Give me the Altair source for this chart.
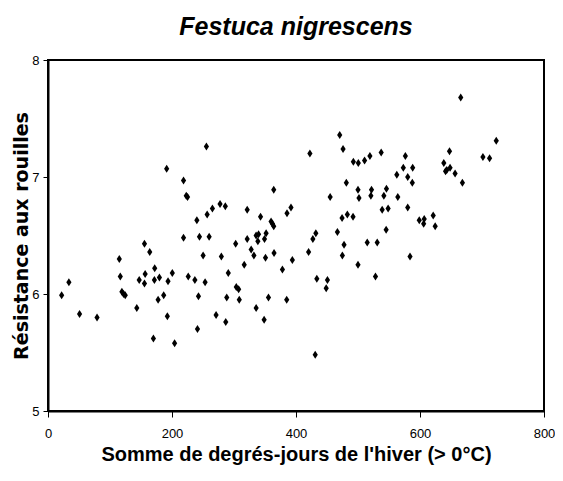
import altair as alt
import pandas as pd

# Somme de degrés-jours de l'hiver (> 0°C)
x_vals = [22.0, 33.7, 50.9, 79.1, 115.0, 116.6, 119.2, 121.9, 124.6, 143.2,
          147.1, 155.6, 155.6, 156.7, 164.1, 170.0, 172.1, 171.6, 177.6, 179.7,
          186.6, 192.5, 193.6, 200.5, 204.2, 218.6, 226.2, 236.9, 240.1, 241.1,
          242.7, 244.3, 250.2, 253.4, 259.9, 271.1, 255.5, 191.4, 218.6, 225.1,
          223.0, 265.2, 256.7, 277.5, 286.0, 321.3, 342.8, 359.8, 362.0, 364.1,
          364.1, 385.5, 391.9, 422.4, 455.1, 470.5, 475.9, 481.2, 492.5, 500.5,
          510.6, 519.2, 500.0, 501.6, 521.8, 520.8, 474.3, 482.8, 492.0, 432.0,
          466.8, 279.6, 302.7, 321.3, 327.7, 332.1, 335.7, 339.6, 338.5, 349.2,
          351.8, 350.8, 364.6, 316.5, 290.8, 288.3, 303.7, 307.5, 308.5, 286.7,
          335.7, 348.6, 355.6, 378.1, 385.0, 394.1, 420.3, 427.2, 433.6, 450.7,
          448.7, 431.0, 477.5, 474.8, 500.0, 514.9, 531.0, 528.2, 537.4, 576.4,
          573.1, 588.2, 562.6, 580.2, 587.6, 545.9, 541.7, 564.2, 539.0, 548.6,
          580.2, 545.4, 598.8, 606.8, 605.9, 621.3, 624.5, 665.7, 647.6, 638.4,
          641.2, 643.2, 648.5, 656.6, 668.4, 701.5, 712.2, 723.0, 583.9]

# Résistance aux rouilles
y_vals = [5.99, 6.10, 5.83, 5.80, 6.30, 6.15, 6.02, 6.00, 5.99, 5.88,
          6.12, 6.43, 6.09, 6.17, 6.36, 5.62, 6.22, 6.12, 5.95, 6.14,
          5.99, 5.81, 6.11, 6.18, 5.58, 6.48, 6.15, 6.12, 6.63, 5.70,
          5.98, 6.49, 6.33, 6.10, 6.49, 5.82, 7.26, 7.07, 6.97, 6.83,
          6.84, 6.73, 6.68, 6.77, 6.75, 6.72, 6.66, 6.62, 6.60, 6.58,
          6.89, 6.69, 6.74, 7.20, 6.83, 7.36, 7.24, 6.95, 7.13, 7.12,
          7.14, 7.18, 6.89, 6.82, 6.89, 6.84, 6.65, 6.68, 6.66, 6.52,
          6.53, 6.32, 6.43, 6.47, 6.38, 6.33, 6.50, 6.51, 6.45, 6.47,
          6.52, 6.31, 6.35, 6.25, 6.18, 5.97, 6.06, 6.04, 5.95, 5.76,
          5.88, 5.78, 5.97, 6.21, 5.95, 6.29, 6.36, 6.47, 6.13, 6.12,
          6.05, 5.48, 6.42, 6.33, 6.25, 6.44, 6.44, 6.15, 7.21, 7.18,
          7.08, 7.08, 7.02, 7.00, 6.95, 6.90, 6.84, 6.83, 6.72, 6.73,
          6.74, 6.55, 6.63, 6.64, 6.60, 6.67, 6.58, 7.68, 7.22, 7.12,
          7.05, 7.06, 7.08, 7.03, 6.95, 7.17, 7.16, 7.31, 6.32]

x_ticks = [0, 200, 400, 600, 800]
y_ticks = [5, 6, 7, 8]

df = pd.DataFrame({"x": x_vals, "y": y_vals})

NARROW = "Liberation Sans, Arial, sans-serif"
WIDE = "DejaVu Sans, sans-serif"

chart = alt.Chart(df).mark_point(
    shape="M0,-1L0.65,0L0,1L-0.65,0Z",
    filled=True,
    color="black",
    opacity=1,
    size=64,
).encode(
    x=alt.X("x:Q",
            scale=alt.Scale(domain=[0, 800], nice=False, zero=False),
            axis=alt.Axis(values=x_ticks, title="Somme de degrés-jours de l'hiver (> 0°C)",
                          tickSize=6, labelPadding=10, titlePadding=4,
                          titleFont=NARROW, titleFontSize=20, titleFontWeight="bold",
                          labelFlush=False)),
    y=alt.Y("y:Q",
            scale=alt.Scale(domain=[5, 8], nice=False, zero=False),
            axis=alt.Axis(values=y_ticks, title="Résistance aux rouilles",
                          tickSize=5, labelPadding=4, titlePadding=0,
                          titleFont=WIDE, titleFontSize=19, titleFontWeight="bold",
                          labelFlush=False)),
).properties(
    width=496,
    height=351,
    title=alt.TitleParams("Festuca nigrescens", font=NARROW, fontSize=25,
                          fontStyle="italic", fontWeight="bold", anchor="middle",
                          offset=14, color="black"),
    autosize=alt.AutoSizeParams(type="none"),
    padding={"left": 40, "top": 52, "right": 11, "bottom": 62},
).configure_view(
    stroke="black", strokeWidth=2
).configure_axis(
    domainColor="black", domainWidth=2, tickColor="black", tickWidth=1,
    grid=False, labelFont=NARROW, labelFontSize=13, labelColor="black",
    titleColor="black"
)

chart.save("out.html", embed_options={"renderer": "svg", "actions": False})
